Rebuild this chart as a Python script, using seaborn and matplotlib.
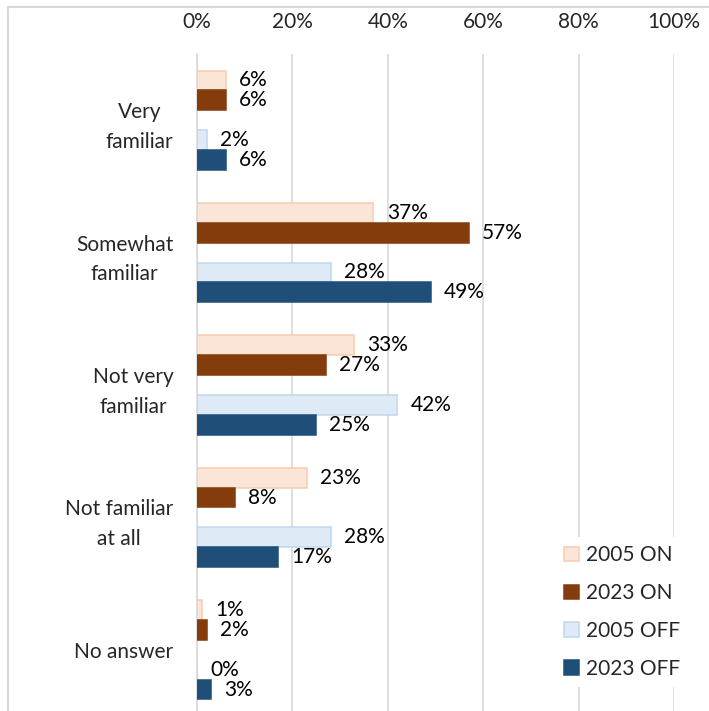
import pandas as pd
import matplotlib.pyplot as plt
import seaborn as sns
from matplotlib.lines import Line2D
from matplotlib.patches import Patch

# Data
categories = ["Very\nfamiliar", "Somewhat\nfamiliar", "Not very\nfamiliar", "Not familiar\nat all", "No answer"]
series = ["2005 ON", "2023 ON", "2005 OFF", "2023 OFF"]
on_2005 = [6, 37, 33, 23, 1]
on_2023 = [6, 57, 27, 8, 2]
off_2005 = [2, 28, 42, 28, 0]
off_2023 = [6, 49, 25, 17, 3]

fill_colors = ["#FBE5D6", "#843C0C", "#DEEBF7", "#1F4E79"]
edge_colors = ["#F8CBAD", "#843C0C", "#BDD7EE", "#1F4E79"]

# empty spacer level between the ON and OFF pairs (like the Excel original)
spacer = " "
hue_order = ["2005 ON", "2023 ON", spacer, "2005 OFF", "2023 OFF"]
values = {"2005 ON": on_2005, "2023 ON": on_2023, spacer: [0] * len(categories),
          "2005 OFF": off_2005, "2023 OFF": off_2023}

df = pd.concat(
    [pd.DataFrame({"category": categories, "series": s, "value": values[s]}) for s in hue_order],
    ignore_index=True,
)
palette = dict(zip(series, fill_colors))
palette[spacer] = "white"

sns.set_style("white")
plt.rcParams["font.family"] = ["Lato", "DejaVu Sans"]

fig = plt.figure(figsize=(7.09, 7.11), dpi=100)
W, H = 709, 711
ax = fig.add_axes([197 / W, 1 - 716 / H, 477 / W, 662 / H])

sns.barplot(
    data=df, x="value", y="category", hue="series", hue_order=hue_order,
    order=categories, palette=palette, width=0.75, orient="y",
    errorbar=None, saturation=1, legend=False, ax=ax, zorder=3,
)

edge_map = {s: e for s, e in zip(series, edge_colors)}
for cont, name in zip(ax.containers, hue_order):
    if name == spacer:
        for b in cont:
            b.set_visible(False)
        continue
    for b in cont:
        b.set_edgecolor(edge_map[name])
        b.set_linewidth(1.1)
    ax.bar_label(cont, labels=[f"{b.get_width():.0f}%" for b in cont],
                 padding=9.5, fontsize=15, color="black")

# axes styling
ax.set_xlim(0, 100)
ax.set_ylim(4.5, -0.5)
ax.set_xticks(range(0, 101, 20))
ax.set_xticklabels([f"{t}%" for t in range(0, 101, 20)])
ax.xaxis.tick_top()
ax.tick_params(axis="x", length=0, pad=16, labelsize=15)
ax.tick_params(axis="y", length=0, pad=17, labelsize=15)
for lbl in ax.get_yticklabels():
    lbl.set_multialignment("center")
    lbl.set_linespacing(1.6)
ax.set_xlabel("")
ax.set_ylabel("")
ax.grid(axis="x", color="#D9D9D9", linewidth=1.2, zorder=0)
ax.grid(axis="y", visible=False)
for side in ["top", "right", "bottom"]:
    ax.spines[side].set_visible(False)
ax.spines["left"].set_color("#D9D9D9")
ax.spines["left"].set_linewidth(1.2)

handles = [Patch(facecolor=f, edgecolor=e, linewidth=1.1, label=s)
           for s, f, e in zip(series, fill_colors, edge_colors)]
leg = ax.legend(
    handles=handles, loc="upper left", bbox_to_anchor=(556 / W, 1 - 537 / H),
    bbox_transform=fig.transFigure, fontsize=15, frameon=True, fancybox=False,
    borderpad=0.4, borderaxespad=0, labelspacing=0.86, handlelength=0.72,
    handleheight=0.72, handletextpad=0.3,
)
leg.get_frame().set_facecolor("white")
leg.get_frame().set_edgecolor("none")
leg.get_frame().set_alpha(1)
leg.set_zorder(5)

# chart-area border (top and left edges visible in the crop)
fig.add_artist(Line2D([8 / W, 8 / W], [0, 1 - 7 / H], transform=fig.transFigure,
                      color="#D9D9D9", linewidth=1.5))
fig.add_artist(Line2D([8 / W, 1], [1 - 7 / H, 1 - 7 / H], transform=fig.transFigure,
                      color="#D9D9D9", linewidth=1.5))

fig.savefig("out.png", dpi=100)
